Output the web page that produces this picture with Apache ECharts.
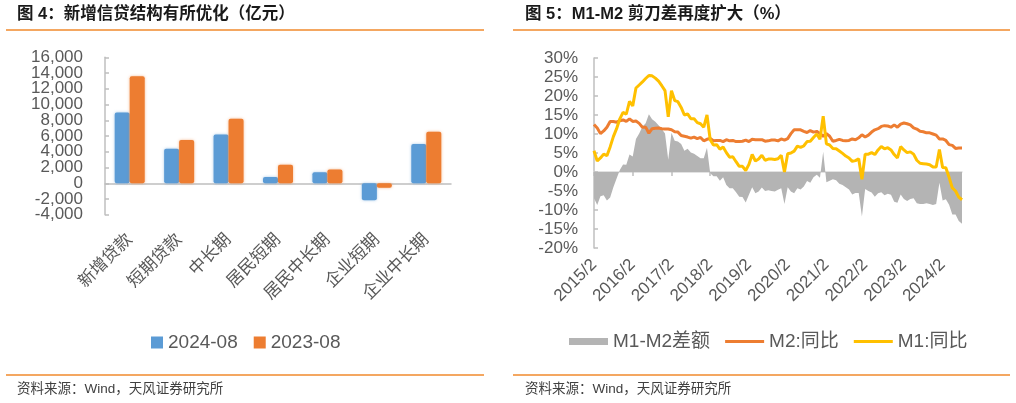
<!DOCTYPE html>
<html><head><meta charset="utf-8">
<script src="https://cdn.jsdelivr.net/npm/echarts@6/dist/echarts.min.js"></script>
<style>html,body{margin:0;padding:0;background:#fff}#c{width:1016px;height:403px}</style>
</head><body><div id="c"></div>
<script>
// ---- Left chart: 新增信贷结构 (亿元) ----
const loanCategories = ['新增贷款','短期贷款','中长期','居民短期','居民中长期','企业短期','企业中长期'];
const loans2024 = [9000, 4400, 6200, 800, 1400, -2150, 5000];
const loans2023 = [13600, 5500, 8200, 2350, 1750, -550, 6550];
const loanSeriesNames = ['2024-08', '2023-08'];

// ---- Right chart: M1 / M2 同比 (%), 2015/2 – 2024/8 monthly ----
const monthStart = [2015, 2];
const monthCount = 115;
const m2Yoy = [
  12.5, 11.6, 10.1, 10.8, 11.8, 13.3, 13.3, 13.1, 13.5, 13.7, 13.3,
  14.0, 13.3, 13.4, 12.8, 11.8, 11.8, 10.2, 11.4, 11.5, 11.6, 11.4, 11.3,
  11.3, 11.1, 10.6, 10.5, 9.6, 9.4, 9.2, 8.9, 9.2, 8.8, 9.1, 8.2,
  8.6, 8.8, 8.2, 8.3, 8.3, 8.0, 8.5, 8.2, 8.3, 8.0, 8.0, 8.1,
  8.4, 8.0, 8.6, 8.5, 8.5, 8.5, 8.1, 8.2, 8.4, 8.4, 8.2, 8.7,
  8.4, 8.8, 10.1, 11.1, 11.1, 11.1, 10.7, 10.4, 10.9, 10.5, 10.7, 10.1,
  9.4, 10.1, 9.4, 8.1, 8.3, 8.6, 8.3, 8.2, 8.3, 8.7, 8.5, 9.0,
  9.8, 9.2, 9.7, 10.5, 11.1, 11.4, 12.0, 12.2, 12.1, 11.8, 12.4, 11.8,
  12.6, 12.9, 12.7, 12.4, 11.6, 11.3, 10.7, 10.6, 10.3, 10.3, 10.0, 9.7,
  8.7, 8.7, 8.3, 7.2, 7.0, 6.2, 6.3, 6.3
];
const m1Yoy = [
  5.6, 2.9, 3.7, 4.7, 4.3, 6.6, 9.3, 11.4, 14.0, 15.7, 15.2,
  18.6, 17.4, 22.1, 22.9, 23.7, 24.6, 25.4, 25.3, 24.7, 23.9, 22.7, 21.4,
  14.5, 21.4, 18.8, 18.5, 17.0, 15.0, 15.3, 14.0, 14.0, 13.0, 12.7, 11.8,
  15.0, 8.5, 7.1, 7.2, 6.0, 6.6, 5.1, 3.9, 4.0, 2.7, 1.5, 1.5,
  0.4, 2.0, 4.6, 2.9, 3.4, 4.4, 3.1, 3.4, 3.4, 3.3, 3.5, 4.4,
  0.0, 4.8, 5.0, 5.5, 6.8, 6.5, 6.9, 8.0, 8.1, 9.1, 10.0, 8.6,
  14.7, 7.4, 7.1, 6.2, 6.1, 5.5, 4.9, 4.2, 3.7, 2.8, 3.0, 3.5,
  -1.9, 4.7, 4.7, 5.1, 4.6, 5.8, 6.7, 6.1, 6.4, 5.8, 4.6, 3.7,
  6.7, 5.8, 5.1, 5.3, 4.7, 3.1, 2.3, 2.2, 2.1, 1.9, 1.3, 1.3,
  5.9, 1.2, 1.1, -1.4, -4.2, -5.0, -6.6, -7.3
];
const m1m2Gap = [
  -6.9, -8.7, -6.4, -6.1, -7.5, -6.7, -4.0, -1.7, 0.5, 2.0, 1.9,
  4.6, 4.1, 8.7, 10.1, 11.9, 12.8, 15.2, 13.9, 13.2, 12.3, 11.3, 10.1,
  3.2, 10.3, 8.2, 8.0, 7.4, 5.6, 6.1, 5.1, 4.8, 4.2, 3.6, 3.6,
  6.4, -0.3, -1.1, -1.1, -2.3, -1.4, -3.4, -4.3, -4.3, -5.3, -6.5, -6.6,
  -8.0, -6.0, -4.0, -5.6, -5.1, -4.1, -5.0, -4.8, -5.0, -5.1, -4.7, -4.3,
  -8.4, -4.0, -5.1, -5.6, -4.3, -4.6, -3.8, -2.4, -2.8, -1.4, -0.7, -1.5,
  5.3, -2.7, -2.3, -1.9, -2.2, -3.1, -3.4, -4.0, -4.6, -5.9, -5.5, -5.5,
  -11.7, -4.5, -5.0, -5.4, -6.5, -5.6, -5.3, -6.1, -5.7, -6.0, -7.8, -8.1,
  -5.9, -7.1, -7.6, -7.1, -6.9, -8.2, -8.4, -8.4, -8.2, -8.4, -8.7, -8.4,
  -2.8, -7.5, -7.2, -8.6, -11.2, -11.2, -12.9, -13.6
];
const moneySeriesNames = ['M1-M2差额', 'M2:同比', 'M1:同比'];

const months = [];
for (let i = 0; i < monthCount; i++) {
  const t = monthStart[0] * 12 + (monthStart[1] - 1) + i;
  months.push(Math.floor(t / 12) + '/' + (t % 12 + 1));
}

const FONT = "'Liberation Sans', Arial, 'Noto Sans CJK SC', sans-serif";
const LABEL = '#595959';
const AXIS = '#BFBFBF';
const ORANGE_RULE = '#F08A2C';
const LINE_ICON = 'path://M0,0H40V3H0Z';

function commas(v) {
  const s = Math.abs(v).toString().replace(/\B(?=(\d{3})+(?!\d))/g, ',');
  return (v < 0 ? '-' : '') + s;
}
// Two label layers on the left value axis (alternate ticks) so that tightly
// spaced labels are not auto-hidden.
function loanLabel(parity) {
  return function (v) {
    const k = Math.round(v / 2000);
    return (((k % 2) + 2) % 2) === parity ? commas(v) : '';
  };
}
const loanAxisBase = { gridIndex: 0, type: 'value', min: -4000, max: 16000, interval: 2000, position: 'left', splitLine: { show: false } };

const chart = echarts.init(document.getElementById('c'));
chart.setOption({
  animation: false,
  textStyle: { fontFamily: FONT },
  grid: [
    { left: 105, top: 57.3, width: 346, height: 157.5 },
    { left: 594, top: 58, width: 368, height: 190 }
  ],
  xAxis: [
    {
      gridIndex: 0, type: 'category', data: loanCategories,
      axisLine: { onZero: true, lineStyle: { color: AXIS, width: 1.5 } },
      axisTick: { length: 5, lineStyle: { color: AXIS, width: 1.5 } },
      axisLabel: { interval: 0, rotate: 45, margin: 22, fontSize: 17, color: LABEL, fontFamily: FONT }
    },
    {
      gridIndex: 1, type: 'category', data: months, boundaryGap: false,
      axisLine: { onZero: true, lineStyle: { color: '#D9D9D9', width: 1.5 } },
      axisTick: { interval: 11, length: 4, lineStyle: { color: AXIS, width: 1.5 } },
      axisLabel: { interval: 11, rotate: 45, margin: 14, fontSize: 17, color: LABEL, fontFamily: FONT }
    }
  ],
  yAxis: [
    Object.assign({}, loanAxisBase, {
      axisLine: { show: true, onZero: false, lineStyle: { color: AXIS, width: 1.5 } },
      axisTick: { show: true, inside: true, length: 4, lineStyle: { color: AXIS, width: 1.5 } },
      axisLabel: { showMinLabel: true, showMaxLabel: true, margin: 22, fontSize: 17, color: LABEL, fontFamily: FONT, formatter: loanLabel(0) }
    }),
    {
      gridIndex: 1, type: 'value', min: -20, max: 30, interval: 5,
      axisLine: { show: true, lineStyle: { color: AXIS, width: 1.5 } },
      axisTick: { show: true, inside: true, length: 4, lineStyle: { color: AXIS, width: 1.5 } },
      splitLine: { show: false },
      axisLabel: { showMinLabel: true, showMaxLabel: true, margin: 16, fontSize: 17, color: LABEL, fontFamily: FONT, formatter: '{value}%' }
    },
    Object.assign({}, loanAxisBase, {
      offset: 0,
      axisLine: { show: false, onZero: false },
      axisTick: { show: false },
      axisLabel: { showMinLabel: true, showMaxLabel: true, margin: 22, fontSize: 17, color: LABEL, fontFamily: FONT, formatter: loanLabel(1) }
    })
  ],
  legend: [
    {
      data: loanSeriesNames, left: 146, top: 328, icon: 'rect',
      itemWidth: 12, itemHeight: 12, itemGap: 16,
      textStyle: { fontSize: 19, color: LABEL, fontFamily: FONT }
    },
    {
      data: [
        { name: moneySeriesNames[0], icon: 'rect' },
        { name: moneySeriesNames[1], icon: LINE_ICON },
        { name: moneySeriesNames[2], icon: LINE_ICON }
      ],
      left: 564, top: 327, itemWidth: 39, itemHeight: 7, itemGap: 15,
      textStyle: { fontSize: 19, color: LABEL, fontFamily: FONT }
    }
  ],
  series: [
    {
      name: loanSeriesNames[0], type: 'bar', xAxisIndex: 0, yAxisIndex: 0,
      data: loans2024, barWidth: 15, barGap: '0%',
      itemStyle: { color: '#5B9BD5', borderRadius: 2, shadowBlur: 3, shadowColor: 'rgba(91,155,213,0.55)' }
    },
    {
      name: loanSeriesNames[1], type: 'bar', xAxisIndex: 0, yAxisIndex: 0,
      data: loans2023, barWidth: 15, barGap: '0%',
      itemStyle: { color: '#ED7D31', borderRadius: 2, shadowBlur: 3, shadowColor: 'rgba(237,125,49,0.55)' }
    },
    {
      name: moneySeriesNames[0], type: 'line', xAxisIndex: 1, yAxisIndex: 1,
      data: m1m2Gap, symbol: 'none', showSymbol: false, color: '#B4B4B4',
      lineStyle: { width: 0 }, itemStyle: { color: '#B4B4B4', borderWidth: 0 },
      areaStyle: { color: '#B4B4B4', opacity: 1 }, z: 1
    },
    {
      name: moneySeriesNames[1], type: 'line', xAxisIndex: 1, yAxisIndex: 1,
      data: m2Yoy, symbol: 'none', showSymbol: false, color: '#ED7D31',
      lineStyle: { width: 3, color: '#ED7D31' }, itemStyle: { color: '#ED7D31' }, z: 3
    },
    {
      name: moneySeriesNames[2], type: 'line', xAxisIndex: 1, yAxisIndex: 1,
      data: m1Yoy, symbol: 'none', showSymbol: false, color: '#FFC000',
      lineStyle: { width: 3, color: '#FFC000' }, itemStyle: { color: '#FFC000' }, z: 4
    }
  ],
  graphic: [
    { type: 'text', left: 17, top: 6, style: { text: '图 4：新增信贷结构有所优化（亿元）', font: "bold 16.5px " + FONT, fill: '#1a1a1a' } },
    { type: 'text', left: 525, top: 6, style: { text: '图 5：M1-M2 剪刀差再度扩大（%）', font: "bold 16.5px " + FONT, fill: '#1a1a1a' } },
    { type: 'line', shape: { x1: 6, y1: 30, x2: 484, y2: 30 }, style: { stroke: ORANGE_RULE, lineWidth: 1.5 } },
    { type: 'line', shape: { x1: 513, y1: 30, x2: 1010, y2: 30 }, style: { stroke: ORANGE_RULE, lineWidth: 1.5 } },
    { type: 'line', shape: { x1: 6, y1: 375, x2: 484, y2: 375 }, style: { stroke: ORANGE_RULE, lineWidth: 1.5 } },
    { type: 'line', shape: { x1: 513, y1: 375, x2: 1010, y2: 375 }, style: { stroke: ORANGE_RULE, lineWidth: 1.5 } },
    { type: 'text', left: 17, top: 383, style: { text: '资料来源：Wind，天风证券研究所', font: "13.5px " + FONT, fill: '#404040' } },
    { type: 'text', left: 525, top: 383, style: { text: '资料来源：Wind，天风证券研究所', font: "13.5px " + FONT, fill: '#404040' } }
  ]
});
</script>
</body></html>
